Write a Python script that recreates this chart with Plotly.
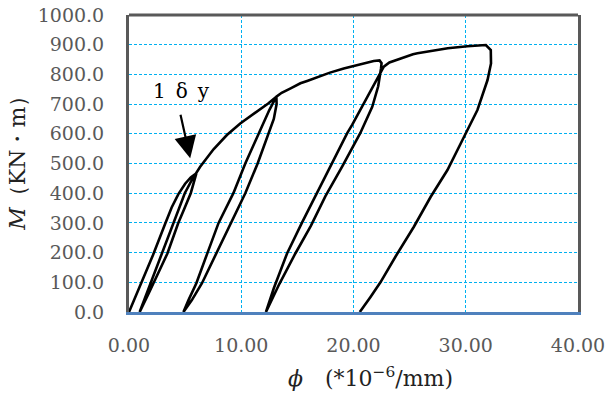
import plotly.graph_objects as go

# ---- data (phi in 1e-6/mm, M in kN·m) ----
env1_x = [0.0, 1.1, 2.14, 3.24, 3.8, 4.4, 5.0, 5.5, 6.0]
env1_y = [0, 97, 192, 299, 352, 397, 432, 453, 467]
unl1_x = [6.0, 5.8, 5.5, 4.9, 4.38, 3.42, 2.5, 1.76, 0.95]
unl1_y = [467, 440, 400, 345, 299, 197, 120, 63, 0]
rel1_x = [0.95, 1.85, 2.9, 3.93, 4.97, 5.6, 6.0]
rel1_y = [0, 91, 197, 299, 400, 445, 467]

env2_x = [6.0, 6.34, 7.53, 8.72, 9.91, 11.4, 12.4, 13.13]
env2_y = [467, 489, 548, 596, 635, 674, 702, 725]
unl2_x = [13.13, 13.15, 12.9, 12.44, 11.46, 10.36, 9.08, 7.7, 6.5, 5.6, 4.85]
unl2_y = [725, 700, 650, 600, 500, 400, 300, 195, 97, 40, 0]
rel2_x = [4.85, 5.3, 6.0, 7.0, 7.98, 9.3, 10.36, 11.55, 12.5, 13.13]
rel2_y = [0, 40, 97, 200, 300, 400, 500, 600, 680, 725]

env3_x = [13.13, 13.6, 14.4, 15.27, 15.87, 17.0, 17.9, 19.13, 20.2, 21.2, 21.8, 22.32, 22.5, 22.45]
env3_y = [725, 738, 753, 770, 778, 795, 806, 820, 831, 840, 845, 847, 838, 820]
unl3_x = [22.45, 22.2, 21.67, 20.6, 19.0, 17.5, 16.2, 14.82, 13.4, 12.2]
unl3_y = [820, 760, 691, 602, 490, 390, 290, 197, 95, 0]
rel3_x = [12.2, 12.9, 14.08, 15.4, 16.6, 18.0, 19.44, 19.88, 20.92, 21.7, 22.2, 22.5]
rel3_y = [0, 80, 197, 300, 390, 490, 602, 630, 703, 760, 795, 815]

env4_x = [22.5, 22.7, 23.2, 23.9, 25.3, 25.7, 28.07, 28.4, 30.15, 31.0, 31.79, 32.23, 32.25]
env4_y = [815, 826, 840, 850, 868, 871, 884, 888, 895, 897, 899, 882, 837]
unl4_x = [32.25, 31.94, 31.5, 31.04, 29.85, 28.37, 26.88, 25.38, 23.75, 22.4, 21.5, 20.56]
unl4_y = [837, 781, 730, 680, 590, 478, 388, 287, 187, 100, 50, 0]

x_ticks = [0, 10, 20, 30, 40]
y_ticks = [0, 100, 200, 300, 400, 500, 600, 700, 800, 900, 1000]

segments_x = [env1_x, unl1_x, rel1_x, env2_x, unl2_x, rel2_x, env3_x, unl3_x, rel3_x, env4_x, unl4_x]
segments_y = [env1_y, unl1_y, rel1_y, env2_y, unl2_y, rel2_y, env3_y, unl3_y, rel3_y, env4_y, unl4_y]

path_x, path_y = [], []
for sx, sy in zip(segments_x, segments_y):
    path_x += sx
    path_y += sy

SERIF = "DejaVu Serif, Liberation Serif, serif"
GRID = "#00B0F0"

fig = go.Figure()
fig.add_trace(go.Scatter(x=path_x, y=path_y, mode="lines",
                         line=dict(color="black", width=2.6),
                         showlegend=False, hoverinfo="skip"))

fig.update_layout(
    width=609, height=396,
    margin=dict(l=129, r=31, t=15, b=84),
    paper_bgcolor="white", plot_bgcolor="white",
    font=dict(family=SERIF, color="#595959", size=19),
    showlegend=False,
)
fig.update_xaxes(
    range=[0, 40], tickvals=x_ticks, tickformat=".2f", automargin=False,
    showgrid=True, gridcolor=GRID, gridwidth=1, griddash="3px,2px",
    zeroline=False, showline=True, linecolor="#4F81BD", linewidth=3,
    ticks="", ticklabelstandoff=14,
    tickfont=dict(family=SERIF, size=19, color="#595959"),
)
fig.update_yaxes(
    range=[0, 1000], tickvals=y_ticks, tickformat=".1f", automargin=False,
    showgrid=True, gridcolor=GRID, gridwidth=1, griddash="3px,2px",
    zeroline=False, showline=True, linecolor="#595959", linewidth=3, mirror=True,
    ticks="", ticklabelstandoff=18,
    tickfont=dict(family=SERIF, size=19, color="#595959"),
)
# top border of plot frame
fig.add_shape(type="line", xref="x domain", yref="y domain",
              x0=0, x1=1, y0=1, y1=1, line=dict(color="#595959", width=3))

# axis titles
fig.add_annotation(xref="paper", yref="paper", x=0.538, y=-0.219,
                   text="<i>ϕ</i>\u3000(*10<sup>−6</sup>/mm)", showarrow=False,
                   font=dict(family=SERIF, size=22, color="#222222"),
                   xanchor="center", yanchor="middle")
fig.add_annotation(xref="paper", yref="paper", x=-0.249, y=0.52,
                   text="<i>M</i>\uff08KN\u30fbm\uff09", showarrow=False, textangle=-90,
                   font=dict(family=SERIF, size=22, color="#222222"),
                   xanchor="center", yanchor="middle")

# "1δy" label and arrow
fig.add_annotation(x=4.67, y=744, xref="x", yref="y",
                   text="1\u2002δ\u2002y", showarrow=False,
                   font=dict(family=SERIF, size=20, color="black"))
fig.add_annotation(x=5.45, y=518, xref="x", yref="y", text="",
                   showarrow=True, ax=-10, ay=-45, axref="pixel", ayref="pixel",
                   arrowhead=2, arrowsize=2.0, arrowwidth=2.2, arrowcolor="black")

fig.write_html("out.html")
